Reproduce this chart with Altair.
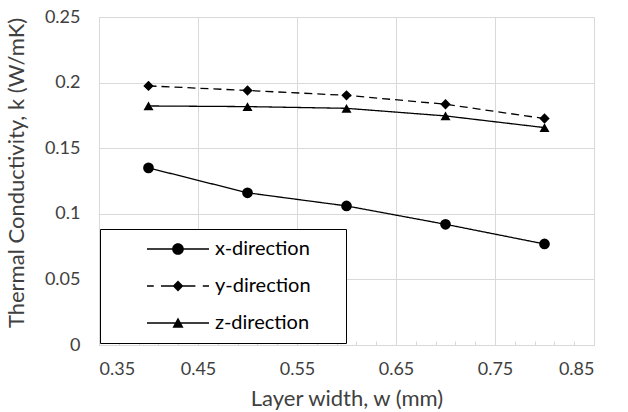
import altair as alt
import pandas as pd

# ---- data ----
widths = [0.4, 0.5, 0.6, 0.7, 0.8]
k_x = [0.135, 0.116, 0.106, 0.092, 0.077]
k_y = [0.1975, 0.194, 0.1903, 0.1835, 0.1726]
k_z = [0.1822, 0.1817, 0.1804, 0.1746, 0.1657]
series = ["x-direction", "y-direction", "z-direction"]
x_major = [0.35, 0.45, 0.55, 0.65, 0.75, 0.85]
x_minor = [0.37, 0.39, 0.41, 0.43, 0.47, 0.49, 0.51, 0.53, 0.57, 0.59,
           0.61, 0.63, 0.67, 0.69, 0.71, 0.73, 0.77, 0.79, 0.81, 0.83]
y_major = [0, 0.05, 0.1, 0.15, 0.2, 0.25]

FONT = "Lato"
TXT = "#404040"
GRID = "#d9d9d9"

df = pd.DataFrame({
    "series": [s for s in series for _ in widths],
    "w": widths * 3,
    "k": k_x + k_y + k_z,
})

# legend symbols: line (thin filled bars) + marker, in units of 9 px;
# the trailing move widens the legend box to the right
path_x = ("M-1.111,-0.072H5.778V0.072H-1.111Z"
          "M1.683,0A0.65,0.65,0,1,1,2.983,0A0.65,0.65,0,1,1,1.683,0Z"
          "M19.8,0")
path_y = ("M-1.111,-0.072H-0.356V0.072H-1.111Z"
          "M0.444,-0.072H4.267V0.072H0.444Z"
          "M5.089,-0.072H5.778V0.072H5.089Z"
          "M2.333,-0.6L2.933,0L2.333,0.6L1.733,0Z"
          "M19.8,0")
path_z = ("M-1.111,-0.072H5.778V0.072H-1.111Z"
          "M2.333,-0.6L2.95,0.53L1.716,0.53Z"
          "M19.8,0")

xs = alt.Scale(domain=[0.35, 0.85], nice=False, zero=False)
ys = alt.Scale(domain=[0, 0.25], nice=False, zero=False)

y_axis = alt.Axis(
    values=y_major, format="~g", title="Thermal Conductivity, k (W/mK)",
    grid=True, gridColor=GRID, ticks=False, domain=False, orient="left",
    labelPadding=19, labelFont=FONT, labelFontSize=18, labelColor=TXT,
    titleFont=FONT, titleFontSize=22, titleColor=TXT, titleFontWeight="normal",
    titleX=-76, titleY=155.5, titleBaseline="alphabetic", titleAngle=270)

base = alt.Chart(df)

lines = base.mark_line(color="black", strokeWidth=1.3).encode(
    x=alt.X("w:Q", scale=xs, axis=alt.Axis(
        values=x_major, format=".2f", title="Layer width, w (mm)", orient="bottom",
        grid=True, gridColor=GRID, ticks=False, domainColor=GRID,
        labelPadding=15, labelFont=FONT, labelFontSize=18, labelColor=TXT,
        titleFont=FONT, titleFontSize=22, titleColor=TXT, titleFontWeight="normal",
        titleY=60, titleBaseline="alphabetic")),
    y=alt.Y("k:Q", scale=ys, axis=y_axis),
    strokeDash=alt.StrokeDash("series:N", scale=alt.Scale(
        domain=series, range=[[1, 0], [8, 5], [1, 0]]), legend=None),
    detail="series:N",
)

points = base.mark_point(filled=True, color="black", opacity=1).encode(
    x=alt.X("w:Q", scale=xs, axis=alt.Axis(
        values=x_minor, labels=False, grid=False, domain=False, ticks=True,
        orient="bottom", tickSize=4, tickColor=GRID, offset=-4, title=None)),
    y=alt.Y("k:Q", scale=ys, axis=y_axis),
    shape=alt.Shape("series:N", scale=alt.Scale(
        domain=series, range=["circle", "diamond", "triangle-up"]), legend=None),
    size=alt.Size("series:N", scale=alt.Scale(domain=series, range=[115, 100, 105]),
                  legend=None),
)

legend_layer = base.mark_point(
    filled=True, fill="black", opacity=0, size=324
).encode(
    x=alt.X("w:Q", scale=xs, axis=None),
    y=alt.Y("k:Q", scale=ys, axis=y_axis),
    shape=alt.Shape("series:N", scale=alt.Scale(
        domain=series, range=[path_x, path_y, path_z]),
        legend=alt.Legend(
            title=None, orient="none", legendX=1, legendY=212,
            fillColor="white", strokeColor="black", padding=10,
            symbolSize=324, symbolFillColor="black",
            symbolStrokeWidth=0, symbolOpacity=1, symbolOffset=37,
            labelFont=FONT, labelFontSize=20, labelColor="#000000",
            labelOffset=48, rowPadding=17)),
)

chart = alt.layer(lines, points, legend_layer).resolve_scale(
    shape="independent", size="independent"
).resolve_axis(x="independent").properties(
    width=495, height=328,
    autosize=alt.AutoSizeParams(type="none"),
    padding={"left": 99, "top": 17, "right": 34, "bottom": 67},
).configure_view(stroke=None).configure(background="white")

chart.save("out.html", embed_options={"renderer": "svg", "actions": False})
